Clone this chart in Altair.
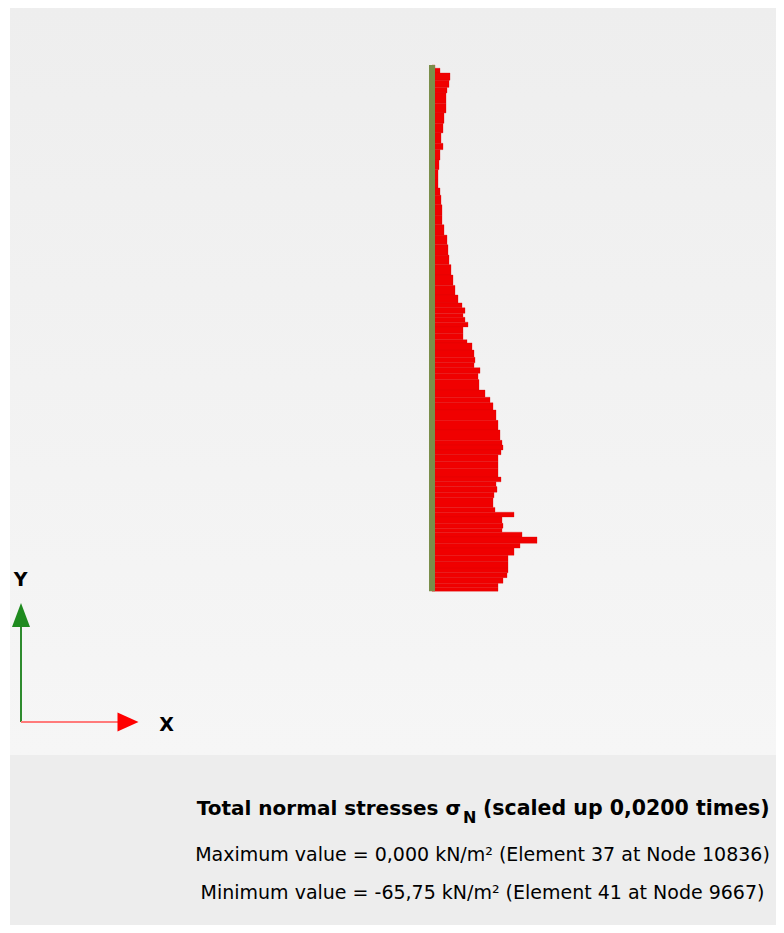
import altair as alt
import pandas as pd

# Distance along the plate from its top (m) and total normal stress (kN/m²)
depth_m = [0.00, 0.04, 0.10, 0.19, 0.28, 0.35, 0.48, 0.60, 0.73, 0.85, 0.98, 1.06,
           1.19, 1.31, 1.44, 1.54, 1.63, 1.75, 1.88, 2.00, 2.13, 2.25, 2.38, 2.50,
           2.63, 2.76, 2.88, 2.98, 3.04, 3.11, 3.16, 3.22, 3.28, 3.36, 3.44, 3.48,
           3.57, 3.66, 3.73, 3.79, 3.86, 3.94, 4.07, 4.16, 4.23, 4.32, 4.45, 4.57,
           4.70, 4.76, 4.82, 4.88, 4.97, 5.05, 5.16, 5.22, 5.28, 5.35, 5.42, 5.54,
           5.60, 5.66, 5.74, 5.80, 5.85, 5.91, 5.99, 6.05, 6.14, 6.22, 6.30, 6.36,
           6.42, 6.49, 6.54]
sigma_n = [-1.88, -5.01, -11.27, -10.65, -9.39, -8.77, -8.77, -7.51, -6.89, -5.64, -6.89, -5.01,
           -4.38, -3.76, -3.76, -5.01, -5.64, -6.26, -6.26, -7.51, -9.39, -10.02, -10.65, -11.90,
           -13.15, -14.40, -16.28, -18.79, -20.66, -19.41, -20.66, -22.54, -19.41, -19.41, -21.92, -25.05,
           -26.30, -26.93, -26.30, -30.06, -28.81, -29.43, -33.19, -36.32, -38.20, -40.08, -41.33, -42.58,
           -43.83, -44.46, -43.21, -41.33, -41.33, -41.33, -43.21, -40.08, -40.70, -38.82, -38.20, -39.45,
           -51.35, -43.83, -44.46, -43.83, -56.36, -65.75, -55.10, -51.35, -47.59, -47.59, -47.59, -46.96,
           -44.46, -41.33, -41.33]
wall_length = 6.59

title_left = "Total normal stresses σ"
title_sub = "N"
title_right = "(scaled up 0,0200 times)"
line_max = "Maximum value = 0,000 kN/m² (Element 37 at Node 10836)"
line_min = "Minimum value = -65,75 kN/m² (Element 41 at Node 9667)"

bottoms = depth_m[1:] + [wall_length]
df = pd.DataFrame({"top": depth_m, "bottom": bottoms, "sigma": sigma_n, "zero": [0.0] * len(depth_m)})
wall_df = pd.DataFrame({"x0": [0.0], "top": [0.0], "bottom": [wall_length]})
one = pd.DataFrame({"k": [0]})

W, H = 768, 917
xscale = alt.Scale(domain=[265.5, -215.41], nice=False, zero=False)
yscale = alt.Scale(domain=[-0.714, 10.770], reverse=True, nice=False, zero=False)

bg = alt.Chart(one).mark_rect(
    color=alt.Gradient(gradient="linear",
                       stops=[alt.GradientStop(color="#eeeeee", offset=0),
                              alt.GradientStop(color="#f6f6f6", offset=1)],
                       x1=0, x2=0, y1=0, y2=1)
).encode(x=alt.value(2), x2=alt.value(W), y=alt.value(-1), y2=alt.value(747))

band = alt.Chart(one).mark_rect(color="#ededed").encode(
    x=alt.value(2), x2=alt.value(W), y=alt.value(747), y2=alt.value(H))

bars = alt.Chart(df).mark_rect(color="#f00000", stroke="#dc0000", strokeWidth=0.3).encode(
    x=alt.X("sigma:Q", scale=xscale, axis=None),
    x2="zero:Q",
    y=alt.Y("top:Q", scale=yscale, axis=None),
    y2="bottom:Q",
)

wall = alt.Chart(wall_df).mark_rule(color="#7a8e4a", strokeWidth=6).encode(
    x=alt.X("x0:Q", scale=xscale, axis=None),
    y=alt.Y("top:Q", scale=yscale, axis=None),
    y2="bottom:Q",
)

gline = alt.Chart(one).mark_rule(color="#2e8b2e", strokeWidth=2).encode(
    x=alt.value(13), y=alt.value(617), y2=alt.value(714))
rline = alt.Chart(one).mark_rule(color="#ff7a7a", strokeWidth=2).encode(
    x=alt.value(13), x2=alt.value(110), y=alt.value(714))
ghead = alt.Chart(one).mark_point(shape="M0,-1L0.75,1L-0.75,1Z", size=576, filled=True,
                                  color="#1e8a1e", opacity=1).encode(
    x=alt.value(13), y=alt.value(607))
rhead = alt.Chart(one).mark_point(shape="M1,0L-1,-0.9L-1,0.9Z", size=441, filled=True,
                                  color="#ff0000", opacity=1).encode(
    x=alt.value(120), y=alt.value(714))

def txt(s, x, y, size, bold=False, align="center", baseline="middle", color="#000000"):
    return alt.Chart(one).mark_text(
        font="DejaVu Sans", fontSize=size, fontWeight="bold" if bold else "normal",
        align=align, baseline=baseline, color=color
    ).encode(x=alt.value(x), y=alt.value(y), text=alt.value(s))

ylab = txt("Y", 12.5, 572, 19, bold=True)
xlab = txt("X", 158.5, 717, 19, bold=True)

t1 = txt(title_left, 453, 807, 20, bold=True, align="right", baseline="alphabetic")
t2 = txt(title_sub, 455, 815, 16, bold=True, align="left", baseline="alphabetic")
t3 = txt(title_right, 475, 807, 20.5, bold=True, align="left", baseline="alphabetic")
l2 = txt(line_max, 474.5, 847, 19)
l3 = txt(line_min, 474.5, 885, 19)

chart = alt.layer(bg, band, bars, wall, gline, rline, ghead, rhead, ylab, xlab, t1, t2, t3, l2, l3).properties(
    width=W, height=H, padding=0, background="white",
    autosize=alt.AutoSizeParams(type="none"),
).configure_view(stroke=None)

chart.save("out.html", embed_options={"renderer": "svg", "actions": False})
